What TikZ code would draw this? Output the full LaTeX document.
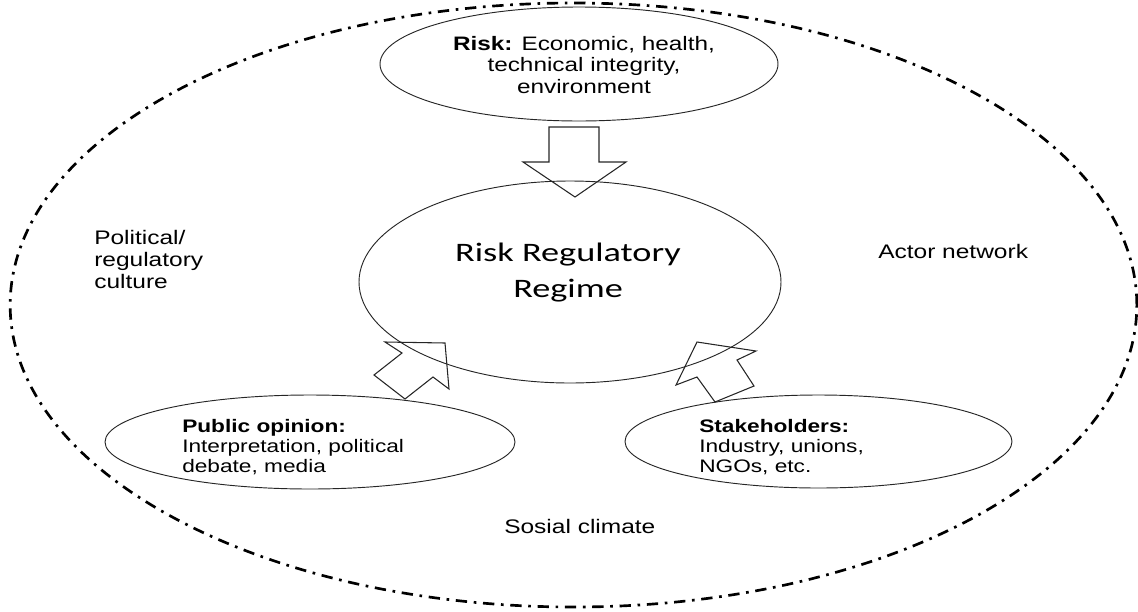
\documentclass[tikz,border=0pt]{standalone}
\usepackage{fontspec}
\setmainfont{Liberation Sans}[FakeStretch=1.25]
\newfontfamily\regimefont{Carlito}[FakeStretch=1.36]
\usetikzlibrary{positioning,shapes.geometric}

\begin{document}
\begin{tikzpicture}[x=0.75pt, y=-0.75pt,
        bubble/.style={ellipse, draw=black!85, line width=0.7pt, inner sep=0pt},
        bubbletext/.style={font=\fontsize{13.6}{15.3}\selectfont, align=left, inner sep=0pt},
        outside/.style={font=\fontsize{14.7}{16.5}\selectfont, align=left, inner sep=0pt},
        climate/.style={ellipse, draw=black, line width=2pt, inner sep=0pt,
            dash pattern=on 8.5pt off 5pt on 2pt off 5pt},
        blockarrow/.style={draw=black!85, line width=0.8pt, line join=miter}
    ]
    \useasboundingbox (0,0) rectangle (1138,611);

    % Outer boundary - social climate
    \node[climate, minimum width=845pt, minimum height=453pt] (climate) at (573.5,305) {};

    % Top - risk
    \node[bubble, minimum width=298.5pt, minimum height=85.5pt] (risk) at (579,64) {};
    \node[bubbletext, align=center, font=\fontsize{14.6}{16}\selectfont] (risktext) at (584,65)
        {\textbf{Risk:} Economic, health,\\technical integrity,\\environment};

    % Middle - the regime
    \node[bubble, minimum width=316.5pt, minimum height=151.5pt] (regime) at (570,282) {};
    \node[inner sep=0pt, align=center, font=\regimefont\fontsize{20}{27}\selectfont] (regimetext) at (568,273)
        {Risk Regulatory\\Regime};

    % Bottom - public opinion and stakeholders
    \node[bubble, minimum width=307.5pt, minimum height=70.5pt] (public) at (310,442) {};
    \node[bubbletext, anchor=west] (publictext) at (182,447)
        {\textbf{Public opinion:}\\Interpretation, political\\debate, media};
    \node[bubble, minimum width=290.25pt, minimum height=69.75pt] (stake) at (818.5,441.5) {};
    \node[bubbletext, anchor=west] (staketext) at (699,447)
        {\textbf{Stakeholders:}\\Industry, unions,\\NGOs, etc.};

    % Labels in the surrounding field
    \node[outside, anchor=west] (culture) at (94,259) {Political/\\regulatory\\culture};
    \node[outside, anchor=base west] (actors) at (878,258) {Actor network};
    \node[outside, anchor=base west] (sosial) at (504,533) {Sosial climate};

    % Block arrows into the regime
    \draw[blockarrow] (549,127) -- (599,127) -- (599,162) -- (626,162) -- (575,197)
        -- (523,162) -- (549,162) -- cycle;
    \draw[blockarrow] (445,343) -- (449,389) -- (433,377) -- (405,399) -- (374,375)
        -- (402,353) -- (385,342) -- cycle;
    \draw[blockarrow] (697,342) -- (756,351) -- (737,360) -- (754,386) -- (715,402)
        -- (697,377) -- (676,385) -- cycle;

\end{tikzpicture}
\end{document}
